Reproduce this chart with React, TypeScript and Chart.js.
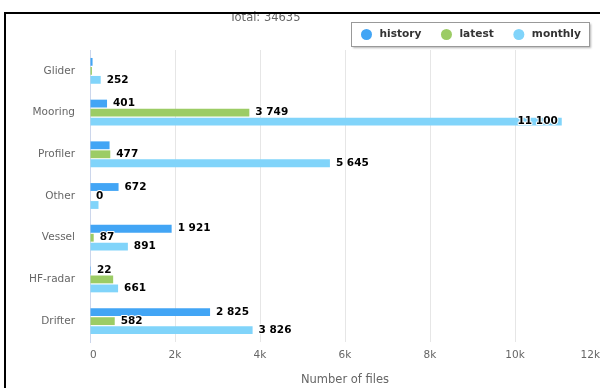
import { useEffect, useRef } from 'react';
import { Chart, registerables } from 'chart.js';

Chart.register(...registerables);

const categories = ['Glider', 'Mooring', 'Profiler', 'Other', 'Vessel', 'HF-radar', 'Drifter'];
const seriesNames = ['history', 'latest', 'monthly'];
const historyValues = [60, 401, 460, 672, 1921, 22, 2825];
const latestValues = [45, 3749, 477, 0, 87, 545, 582];
const monthlyValues = [252, 11100, 5645, 200, 891, 661, 3826];
const seriesColors = ['#42a5f5', '#9ccc65', '#81d4fa'];
const xMax = 12000;
const xStep = 2000;
const subtitleText = 'Total: 34635';
const axisTitle = 'Number of files';
const hiddenLabels = ['Glider:history', 'Glider:latest', 'Profiler:history', 'Other:monthly', 'HF-radar:latest'];

const FONT = '"DejaVu Sans", sans-serif';

const fmt = (v: number) => String(v).replace(/\B(?=(\d{3})+(?!\d))/g, ' ');

const decorPlugin = {
  id: 'decor',
  afterDatasetsDraw(chart: any) {
    const ctx = chart.ctx;
    const area = chart.chartArea;
    ctx.save();
    ctx.font = `bold 10.5px ${FONT}`;
    ctx.textBaseline = 'middle';
    ctx.lineJoin = 'round';
    chart.data.datasets.forEach((ds: any, di: number) => {
      const meta = chart.getDatasetMeta(di);
      meta.data.forEach((bar: any, i: number) => {
        if (hiddenLabels.includes(`${categories[i]}:${ds.label}`)) return;
        const text = fmt(ds.data[i]);
        const w = ctx.measureText(text).width;
        let x = bar.x + 6;
        ctx.textAlign = 'left';
        if (x + w > area.right) {
          x = bar.x - 4;
          ctx.textAlign = 'right';
        }
        ctx.strokeStyle = '#ffffff';
        ctx.lineWidth = 2;
        ctx.strokeText(text, x, bar.y);
        ctx.fillStyle = '#000000';
        ctx.fillText(text, x, bar.y);
      });
    });
    ctx.restore();
  },
  afterDraw(chart: any) {
    const ctx = chart.ctx;
    ctx.save();
    // subtitle
    ctx.font = `11.5px ${FONT}`;
    ctx.fillStyle = '#666666';
    ctx.textAlign = 'center';
    ctx.textBaseline = 'middle';
    ctx.fillText(subtitleText, 265, 18);

    // legend
    ctx.font = `bold 10.6px ${FONT}`;
    const items = chart.data.datasets.map((ds: any) => ({
      label: ds.label,
      color: ds.backgroundColor,
      w: ctx.measureText(ds.label).width,
    }));
    let width = 15;
    items.forEach((it: any, k: number) => {
      width += 14 + it.w;
      if (k < items.length - 1) width += 25;
    });
    width += 6;
    const right = 589.5;
    const left = Math.round(right - width) + 0.5;
    const top = 22.5;
    const height = 24;
    ctx.save();
    ctx.shadowColor = 'rgba(0,0,0,0.3)';
    ctx.shadowBlur = 2;
    ctx.shadowOffsetX = 1;
    ctx.shadowOffsetY = 1;
    ctx.fillStyle = '#ffffff';
    ctx.fillRect(left, top, right - left, height);
    ctx.restore();
    ctx.strokeStyle = '#999999';
    ctx.lineWidth = 1;
    ctx.strokeRect(left, top, right - left, height);
    let x = left + 15;
    const cy = top + height / 2;
    items.forEach((it: any) => {
      ctx.beginPath();
      ctx.arc(x, cy, 5.5, 0, Math.PI * 2);
      ctx.fillStyle = it.color;
      ctx.fill();
      ctx.fillStyle = '#333333';
      ctx.textAlign = 'left';
      ctx.textBaseline = 'middle';
      ctx.fillText(it.label, x + 13, cy);
      x = x + 13 + it.w + 25;
    });
    ctx.restore();
  },
};

export default function App() {
  const canvasRef = useRef<HTMLCanvasElement | null>(null);

  useEffect(() => {
    if (!canvasRef.current) return;
    Chart.defaults.font.family = FONT;
    const valueSets = [historyValues, latestValues, monthlyValues];
    const chart = new Chart(canvasRef.current, {
      type: 'bar',
      data: {
        labels: categories,
        datasets: seriesNames.map((name, k) => ({
          label: name,
          data: valueSets[k],
          backgroundColor: seriesColors[k],
          borderWidth: 0,
          categoryPercentage: 0.647,
          barPercentage: 0.87,
        })),
      },
      options: {
        indexAxis: 'y',
        animation: false,
        responsive: true,
        maintainAspectRatio: false,
        layout: { padding: { top: 50, right: 0, bottom: 0, left: 0 } },
        plugins: {
          legend: { display: false },
          tooltip: { enabled: false },
          title: { display: false },
        },
        scales: {
          x: {
            min: 0,
            max: xMax,
            ticks: {
              stepSize: xStep,
              align: 'inner',
              padding: 0,
              color: '#666666',
              font: { size: 10.5 },
              callback: (v: any) => (Number(v) === 0 ? '0' : `${Number(v) / 1000}k`),
            },
            grid: { color: '#e6e6e6', drawTicks: true, tickLength: 7, tickColor: 'rgba(0,0,0,0)' },
            border: { display: false },
            title: {
              display: true,
              text: axisTitle,
              color: '#666666',
              font: { size: 11.5 },
              padding: { top: 0, bottom: 1 },
            },
            afterFit: (s: any) => {
              s.height = 46;
            },
          },
          y: {
            ticks: { color: '#666666', font: { size: 10.5 }, padding: 15 },
            grid: { display: false, drawTicks: false },
            border: { display: true, color: '#ccd6eb' },
            afterFit: (s: any) => {
              s.width = 90;
            },
          },
        },
      } as any,
      plugins: [decorPlugin],
    });
    return () => chart.destroy();
  }, []);

  return (
    <div style={{ position: 'fixed', left: 0, top: 0, width: 600, height: 388, background: '#fff', overflow: 'hidden' }}>
      <canvas ref={canvasRef} />
      <div style={{ position: 'absolute', left: 4, top: 12, width: 596, height: 2, background: '#000' }} />
      <div style={{ position: 'absolute', left: 4, top: 12, width: 2, height: 376, background: '#000' }} />
    </div>
  );
}
